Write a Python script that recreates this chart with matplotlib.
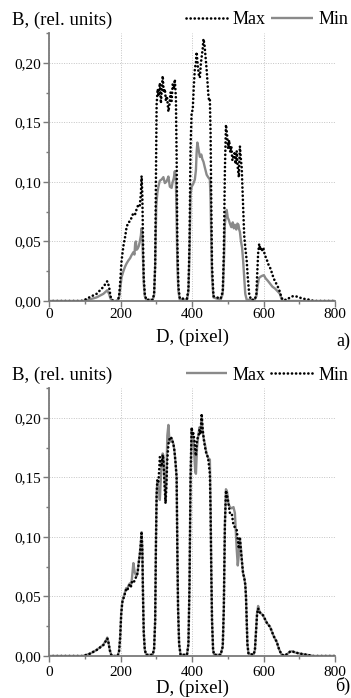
import matplotlib
matplotlib.use("Agg")
import matplotlib.pyplot as plt
from matplotlib.ticker import MultipleLocator, FuncFormatter
from matplotlib.lines import Line2D

plt.rcParams['font.family'] = ['Liberation Serif', 'DejaVu Serif']

# ---- panel a) ----
top_max_d = [0, 90, 100, 115, 133, 152, 163, 168, 172, 176, 180, 192, 196, 199, 203, 208, 213, 217, 222,
             227, 232, 236, 241, 245, 250, 254, 257, 259, 261, 263, 265, 268, 272, 290, 294, 297, 299,
             301, 304, 307, 310, 313, 316, 318, 321, 324, 327, 330, 334, 337, 340, 343, 346, 349, 352,
             355, 357, 359, 362, 366, 386, 390, 393, 396, 399, 402, 405, 408, 411, 413, 416, 419, 422,
             425, 428, 430, 432, 435, 438, 441, 444, 446, 448, 450, 452, 454, 456, 460, 480, 486, 489,
             492, 495, 498, 501, 504, 507, 510, 513, 516, 519, 522, 525, 528, 531, 534, 537, 539, 541,
             543, 546, 549, 553, 556, 560, 565, 575, 580, 582, 585, 588, 591, 594, 597, 600, 604, 608,
             612, 616, 620, 625, 630, 635, 640, 646, 650, 654, 665, 674, 682, 690, 700, 710, 720, 730,
             740, 800]
top_max = [0, 0, 0.001, 0.0034, 0.006, 0.0118, 0.0166, 0.012, 0.004, 0.001, 0, 0, 0.004, 0.015, 0.034,
           0.046, 0.054, 0.062, 0.066, 0.067, 0.071, 0.074, 0.073, 0.077, 0.081, 0.080, 0.09, 0.105,
           0.09, 0.05, 0.02, 0.006, 0.001, 0.001, 0.006, 0.03, 0.1, 0.165, 0.178, 0.172, 0.183, 0.166,
           0.18, 0.189, 0.175, 0.178, 0.168, 0.172, 0.159, 0.165, 0.175, 0.168, 0.182, 0.178, 0.186,
           0.17, 0.12, 0.05, 0.012, 0.002, 0.002, 0.01, 0.05, 0.13, 0.159, 0.16, 0.18, 0.195, 0.2,
           0.209, 0.198, 0.19, 0.1875, 0.2, 0.207, 0.212, 0.22, 0.215, 0.205, 0.194, 0.18, 0.172,
           0.168, 0.169, 0.14, 0.08, 0.03, 0.004, 0.002, 0.008, 0.04, 0.11, 0.148, 0.14, 0.128, 0.135,
           0.125, 0.13, 0.118, 0.121, 0.124, 0.115, 0.126, 0.112, 0.104, 0.13, 0.118, 0.112, 0.095,
           0.076, 0.055, 0.045, 0.034, 0.02, 0.006, 0.001, 0.001, 0.005, 0.02, 0.04, 0.048, 0.043,
           0.045, 0.042, 0.044, 0.038, 0.036, 0.032, 0.029, 0.027, 0.022, 0.018, 0.015, 0.012, 0.0076,
           0.003, 0.001, 0.001, 0.003, 0.004, 0.004, 0.003, 0.002, 0.0015, 0.001, 0, 0]

top_min_d = [0, 95, 110, 133, 152, 163, 168, 172, 176, 180, 192, 196, 199, 203, 208, 213, 217, 222, 227,
             231, 236, 239, 241, 243, 245, 248, 251, 254, 257, 259, 261, 263, 265, 268, 272, 290, 294,
             297, 300, 303, 306, 310, 315, 320, 324, 328, 331, 334, 338, 343, 346, 349, 352, 355, 357,
             359, 362, 366, 386, 390, 393, 396, 399, 403, 408, 411, 413, 415, 418, 422, 426, 429, 432,
             436, 441, 445, 450, 452, 454, 456, 460, 480, 486, 489, 492, 495, 497, 500, 503, 506, 510,
             514, 517, 520, 524, 527, 530, 532, 534, 537, 540, 543, 546, 549, 553, 575, 580, 583, 587,
             590, 595, 601, 606, 612, 618, 625, 632, 640, 646, 650, 654, 800]
top_min = [0, 0, 0.001, 0.003, 0.006, 0.009, 0.006, 0.002, 0.001, 0, 0, 0.003, 0.01, 0.02, 0.025, 0.029,
           0.0315, 0.034, 0.036, 0.0385, 0.041, 0.039, 0.048, 0.05, 0.043, 0.044, 0.046, 0.05, 0.055,
           0.061, 0.055, 0.035, 0.015, 0.004, 0.001, 0.001, 0.005, 0.03, 0.08, 0.0905, 0.096, 0.101,
           0.102, 0.104, 0.099, 0.1, 0.102, 0.1045, 0.096, 0.095, 0.1, 0.103, 0.109, 0.1, 0.07, 0.03,
           0.008, 0.001, 0.001, 0.008, 0.04, 0.09, 0.096, 0.098, 0.102, 0.11, 0.125, 0.133, 0.128,
           0.121, 0.123, 0.119, 0.117, 0.112, 0.106, 0.104, 0.102, 0.085, 0.05, 0.02, 0.003, 0.001,
           0.006, 0.03, 0.065, 0.072, 0.0765, 0.07, 0.068, 0.065, 0.062, 0.066, 0.061, 0.064, 0.06,
           0.065, 0.064, 0.06, 0.058, 0.05, 0.045, 0.034, 0.02, 0.006, 0.001, 0.001, 0.004, 0.012,
           0.019, 0.020, 0.021, 0.0217, 0.019, 0.017, 0.0147, 0.012, 0.0105, 0.008, 0.006, 0.002, 0, 0]

# ---- panel б) ----
bot_d = [0, 95, 100, 115, 133, 152, 160, 163, 166, 170, 174, 180, 192, 196, 199, 202, 205, 208, 212, 216,
         219, 222, 226, 229, 232, 236, 240, 243, 245, 248, 251, 254, 257, 259, 261, 263, 265, 268, 272,
         290, 294, 297, 299, 301, 303, 306, 308, 310, 313, 315, 318, 320, 323, 326, 328, 331, 334, 337,
         340, 343, 346, 348, 351, 354, 357, 359, 361, 364, 368, 386, 390, 393, 396, 399, 402, 404, 407,
         409, 411, 414, 418, 421, 424, 427, 430, 433, 436, 440, 443, 446, 448, 450, 452, 454, 456, 459,
         462, 480, 486, 489, 492, 495, 498, 502, 506, 511, 516, 520, 525, 528, 531, 534, 537, 540, 543,
         546, 549, 551, 553, 555, 558, 572, 576, 579, 582, 585, 588, 592, 596, 599, 604, 609, 614, 618,
         623, 628, 633, 637, 642, 646, 651, 660, 668, 674, 680, 688, 695, 702, 712, 722, 740, 800]
bot_min = [0, 0, 0.0005, 0.002, 0.005, 0.0092, 0.013, 0.0148, 0.012, 0.005, 0.001, 0, 0, 0.004, 0.015,
           0.035, 0.045, 0.048, 0.052, 0.056, 0.055, 0.058, 0.06, 0.058, 0.062, 0.061, 0.064, 0.066,
           0.0665, 0.07, 0.078, 0.085, 0.095, 0.103, 0.09, 0.05, 0.02, 0.005, 0.001, 0.001, 0.006, 0.03,
           0.09, 0.135, 0.148, 0.146, 0.155, 0.167, 0.16, 0.159, 0.169, 0.165, 0.145, 0.128, 0.14, 0.165,
           0.178, 0.182, 0.184, 0.1826, 0.18, 0.178, 0.172, 0.162, 0.15, 0.09, 0.04, 0.01, 0.001, 0.001,
           0.01, 0.06, 0.15, 0.192, 0.185, 0.187, 0.18, 0.172, 0.168, 0.182, 0.184, 0.19, 0.186, 0.2035,
           0.19, 0.182, 0.176, 0.17, 0.168, 0.164, 0.158, 0.153, 0.12, 0.07, 0.03, 0.005, 0.001, 0.001,
           0.008, 0.04, 0.11, 0.139, 0.135, 0.128, 0.12, 0.12, 0.11, 0.108, 0.106, 0.098, 0.09, 0.1,
           0.088, 0.078, 0.069, 0.066, 0.06, 0.05, 0.03, 0.01, 0.002, 0.001, 0.005, 0.02, 0.035, 0.04,
           0.037, 0.036, 0.035, 0.034, 0.031, 0.028, 0.026, 0.0246, 0.021, 0.017, 0.014, 0.012, 0.007,
           0.004, 0.001, 0.0005, 0.002, 0.0036, 0.004, 0.003, 0.0025, 0.002, 0.0015, 0.001, 0, 0]
bot_max = [0, 0, 0.0005, 0.002, 0.005, 0.0095, 0.0135, 0.0155, 0.012, 0.005, 0.001, 0, 0, 0.004, 0.016,
           0.036, 0.046, 0.049, 0.053, 0.057, 0.056, 0.059, 0.061, 0.059, 0.065, 0.078, 0.07, 0.068,
           0.067, 0.071, 0.079, 0.086, 0.096, 0.104, 0.09, 0.05, 0.02, 0.005, 0.001, 0.001, 0.006, 0.03,
           0.09, 0.136, 0.146, 0.14, 0.14, 0.131, 0.15, 0.16, 0.17, 0.168, 0.15, 0.13, 0.145, 0.185,
           0.194, 0.18, 0.18, 0.1826, 0.18, 0.178, 0.172, 0.162, 0.15, 0.09, 0.04, 0.01, 0.001, 0.001,
           0.01, 0.06, 0.15, 0.19, 0.183, 0.182, 0.165, 0.155, 0.153, 0.175, 0.186, 0.192, 0.188, 0.2,
           0.188, 0.182, 0.178, 0.171, 0.168, 0.166, 0.165, 0.165, 0.125, 0.07, 0.03, 0.005, 0.001,
           0.001, 0.008, 0.04, 0.11, 0.14, 0.138, 0.128, 0.125, 0.124, 0.125, 0.12, 0.09, 0.076, 0.085,
           0.098, 0.09, 0.078, 0.069, 0.066, 0.06, 0.05, 0.03, 0.01, 0.002, 0.001, 0.005, 0.02, 0.036,
           0.042, 0.038, 0.036, 0.035, 0.034, 0.031, 0.028, 0.026, 0.0246, 0.021, 0.017, 0.014, 0.012,
           0.007, 0.004, 0.001, 0.0005, 0.002, 0.0036, 0.004, 0.003, 0.0025, 0.002, 0.0015, 0.001, 0, 0]

GRAY = '#8a8a8a'
AXC = '#7a7a7a'
dot_kw = dict(color='black', lw=1.9, linestyle=(0, (0.05, 1.5)), dash_capstyle='round')
sol_kw = dict(color=GRAY, lw=1.7, solid_capstyle='butt')

W, H = 351, 698
fig = plt.figure(figsize=(W / 100, H / 100), dpi=100)


def comma(v, pos):
    return f'{v:.2f}'.replace('.', ',')


def setup(ax, tick_pad):
    ax.set_xlim(0, 800)
    ax.set_ylim(0, 0.225)
    for s in ('top', 'right'):
        ax.spines[s].set_visible(False)
    for s in ('left', 'bottom'):
        ax.spines[s].set_color(AXC)
        ax.spines[s].set_linewidth(1.3)
    ax.xaxis.set_major_locator(MultipleLocator(200))
    ax.xaxis.set_minor_locator(MultipleLocator(100))
    ax.yaxis.set_major_locator(MultipleLocator(0.05))
    ax.yaxis.set_minor_locator(MultipleLocator(0.025))
    ax.yaxis.set_major_formatter(FuncFormatter(comma))
    ax.tick_params(which='major', direction='out', length=4, width=1, color=AXC, labelsize=11)
    ax.tick_params(which='minor', direction='out', length=2.5, width=1, color=AXC)
    ax.tick_params(axis='x', pad=tick_pad)
    ax.tick_params(axis='y', pad=2)
    ax.grid(True, which='major', color='#c4c4c4', linestyle=(0, (1, 1.5)), linewidth=0.7)
    ax.set_axisbelow(True)


def px(x, y):
    return x / W, 1 - y / H


# panel a)
ax1 = fig.add_axes([49 / W, 1 - 301 / H, 286 / W, 268 / H])
setup(ax1, 1)
ax1.plot(top_min_d, top_min, **sol_kw)
ax1.plot(top_max_d, top_max, **dot_kw)
h1 = [Line2D([], [], **dot_kw), Line2D([], [], **sol_kw)]
fig.legend(h1, ['Max', 'Min'], loc='center right', bbox_to_anchor=px(348, 20), ncol=2, frameon=False,
           fontsize=13, handlelength=2.3, handletextpad=0.3, columnspacing=0.3, borderpad=0, borderaxespad=0)
fig.text(*px(12, 20), 'B, (rel. units)', fontsize=13.5, ha='left', va='center')
fig.text(*px(192, 337), 'D, (pixel)', fontsize=13.5, ha='center', va='center')
fig.text(*px(343, 341), 'a)', fontsize=13, ha='center', va='center')

# panel б)
ax2 = fig.add_axes([49 / W, 1 - 656 / H, 286 / W, 268 / H])
setup(ax2, 3)
ax2.plot(bot_d, bot_max, **sol_kw)
ax2.plot(bot_d, bot_min, **dot_kw)
h2 = [Line2D([], [], **sol_kw), Line2D([], [], **dot_kw)]
fig.legend(h2, ['Max', 'Min'], loc='center right', bbox_to_anchor=px(348, 375), ncol=2, frameon=False,
           fontsize=13, handlelength=2.3, handletextpad=0.3, columnspacing=0.3, borderpad=0, borderaxespad=0)
fig.text(*px(12, 375), 'B, (rel. units)', fontsize=13.5, ha='left', va='center')
fig.text(*px(192, 688), 'D, (pixel)', fontsize=13.5, ha='center', va='center')
fig.text(*px(343, 686), 'б)', fontsize=13, ha='center', va='center')

fig.savefig('out.png', dpi=100)
